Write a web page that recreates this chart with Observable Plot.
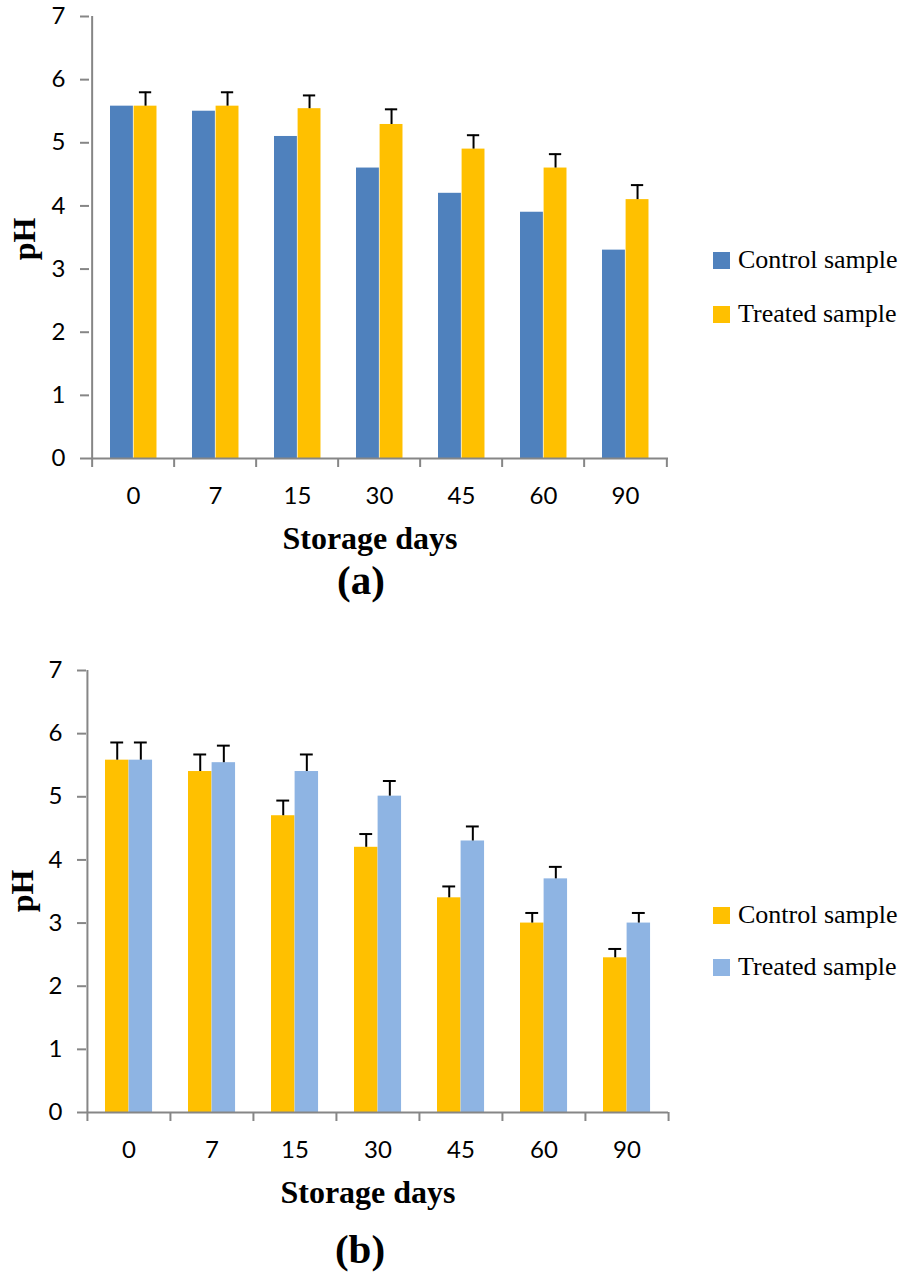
<!DOCTYPE html>
<html>
<head>
<meta charset="utf-8">
<script src="https://cdn.jsdelivr.net/npm/d3@7"></script>
<script src="https://cdn.jsdelivr.net/npm/@observablehq/plot@0.6"></script>
<style>
  html, body { margin: 0; padding: 0; background: #fff; }
  #page { position: relative; width: 898px; height: 1274px; overflow: hidden; }
  .abs { position: absolute; }
  .serifb { font-family: "Liberation Serif", "Times New Roman", serif; font-weight: bold; color: #000; line-height: 1; white-space: nowrap; }
  .leg { position: absolute; display: flex; align-items: center; font-family: "Liberation Serif", "Times New Roman", serif; font-size: 26px; color: #000; white-space: nowrap; line-height: 1; }
  .sw { width: 17px; height: 17px; margin-right: 8px; }
</style>
</head>
<body>
<div id="page"></div>
<script>
// ---------- data ----------
const days = ["0", "7", "15", "30", "45", "60", "90"];
const yTicks = [0, 1, 2, 3, 4, 5, 6, 7];
const seriesNames = ["Control sample", "Treated sample"];

// (a)
const aControl = [5.58, 5.50, 5.10, 4.60, 4.20, 3.90, 3.30];
const aTreated = [5.58, 5.58, 5.54, 5.29, 4.90, 4.60, 4.10];
const aTreatedErr = [0.22, 0.22, 0.21, 0.24, 0.22, 0.22, 0.23];

// (b)
const bControl = [5.58, 5.40, 4.70, 4.20, 3.40, 3.00, 2.45];
const bControlErr = [0.28, 0.27, 0.24, 0.21, 0.18, 0.16, 0.14];
const bTreated = [5.58, 5.54, 5.40, 5.01, 4.30, 3.70, 3.00];
const bTreatedErr = [0.28, 0.27, 0.27, 0.24, 0.23, 0.19, 0.16];

const colors = {
  a: ["#4F81BD", "#FFC000"],
  b: ["#FFC000", "#8EB4E3"]
};

const page = document.getElementById("page");

function makeChart({control, treated, cErr, tErr, cColor, tColor, marginLeft}) {
  const width = 898, height = 510, marginRight = 230, marginTop = 16, marginBottom = 52;
  const band = (width - marginLeft - marginRight) / days.length;
  const off = 18, bw = 23.6, capW = 13;
  const rows = days.map((d, i) => ({
    day: d, control: control[i], treated: treated[i],
    cErr: cErr ? cErr[i] : null, tErr: tErr ? tErr[i] : null
  }));
  const axisGray = "#868686";
  const tickFont = "Lato, 'Open Sans', sans-serif";
  const marks = [
    Plot.barY(rows, {x: "day", y: "control", fill: cColor, insetLeft: off, insetRight: band - off - bw}),
    Plot.barY(rows, {x: "day", y: "treated", fill: tColor, insetLeft: off + bw, insetRight: band - off - 2 * bw}),
  ];
  const cdx = off + bw / 2 - band / 2;
  const tdx = off + 1.5 * bw - band / 2;
  if (cErr) {
    marks.push(
      Plot.ruleX(rows, {x: "day", y1: "control", y2: d => d.control + d.cErr, dx: cdx, stroke: "#000", strokeWidth: 2}),
      Plot.tickY(rows, {x: "day", y: d => d.control + d.cErr, dx: cdx, insetLeft: band / 2 - capW / 2, insetRight: band / 2 - capW / 2, stroke: "#000", strokeWidth: 2})
    );
  }
  if (tErr) {
    marks.push(
      Plot.ruleX(rows, {x: "day", y1: "treated", y2: d => d.treated + d.tErr, dx: tdx, stroke: "#000", strokeWidth: 2}),
      Plot.tickY(rows, {x: "day", y: d => d.treated + d.tErr, dx: tdx, insetLeft: band / 2 - capW / 2, insetRight: band / 2 - capW / 2, stroke: "#000", strokeWidth: 2})
    );
  }
  marks.push(
    Plot.ruleY([0], {stroke: axisGray, strokeWidth: 2}),
    Plot.ruleX([days[0]], {x: d => d, dx: -band / 2, y1: 0, y2: 7, stroke: axisGray, strokeWidth: 2}),
    Plot.ruleX(days, {x: d => d, dx: -band / 2, y1: 0, y2: 0, insetBottom: -9, stroke: axisGray, strokeWidth: 2}),
    Plot.ruleX([days[days.length - 1]], {x: d => d, dx: band / 2, y1: 0, y2: 0, insetBottom: -9, stroke: axisGray, strokeWidth: 2}),
    Plot.axisY({ticks: yTicks, tickSize: 9, tickPadding: 15, stroke: axisGray, strokeWidth: 2, fill: "#000",
      label: null, tickFormat: d3.format("d"), fontSize: 24, fontFamily: tickFont}),
    Plot.axisX({tickSize: 0, tickPadding: 28, fill: "#000", label: null, fontSize: 24, fontFamily: tickFont})
  );
  return Plot.plot({
    width, height, marginLeft, marginRight, marginTop, marginBottom,
    style: {fontFamily: tickFont, fontSize: "24px", background: "transparent", color: "#000"},
    x: {type: "band", domain: days, padding: 0},
    y: {domain: [0, 7]},
    marks
  });
}

function place(el, left, top) {
  el.style.position = "absolute";
  el.style.left = left + "px";
  el.style.top = top + "px";
  page.appendChild(el);
}

function addText(txt, cx, cy, size, rotate) {
  const d = document.createElement("div");
  d.className = "abs serifb";
  d.textContent = txt;
  d.style.fontSize = size + "px";
  d.style.left = cx + "px";
  d.style.top = cy + "px";
  d.style.transform = "translate(-50%, -50%)" + (rotate ? " rotate(-90deg)" : "");
  page.appendChild(d);
}

function addLegend(cols, yCenters) {
  seriesNames.forEach((name, i) => {
    const row = document.createElement("div");
    row.className = "leg";
    row.style.left = "713px";
    row.style.top = (yCenters[i] - 13) + "px";
    row.style.height = "26px";
    const sw = document.createElement("div");
    sw.className = "sw";
    sw.style.background = cols[i];
    const t = document.createElement("span");
    t.textContent = name;
    row.appendChild(sw);
    row.appendChild(t);
    page.appendChild(row);
  });
}

// chart (a)
const chartA = makeChart({control: aControl, treated: aTreated, cErr: null, tErr: aTreatedErr,
  cColor: colors.a[0], tColor: colors.a[1], marginLeft: 89});
place(chartA, 0, 0);
addText("pH", 24, 239, 32, true);
addText("Storage days", 370, 538, 32, false);
addText("(a)", 361, 580, 41, false);
addLegend(colors.a, [260, 314]);

// chart (b)
const chartB = makeChart({control: bControl, treated: bTreated, cErr: bControlErr, tErr: bTreatedErr,
  cColor: colors.b[0], tColor: colors.b[1], marginLeft: 86});
place(chartB, 0, 654);
addText("pH", 22, 891, 32, true);
addText("Storage days", 368, 1192, 32, false);
addText("(b)", 360, 1249, 41, false);
addLegend(colors.b, [915, 967]);
</script>
</body>
</html>
